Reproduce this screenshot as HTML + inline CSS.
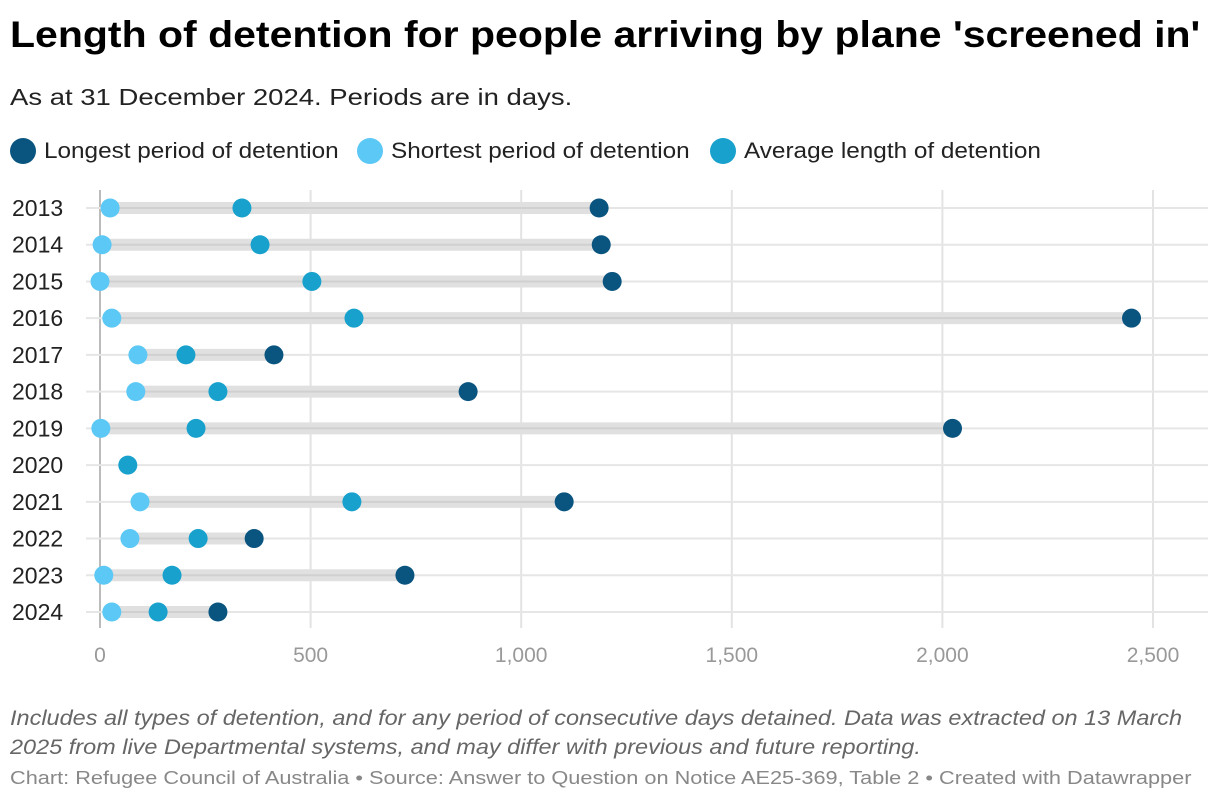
<!DOCTYPE html>
<html><head><meta charset="utf-8"><style>
body{margin:0;background:#fff;font-family:"Liberation Sans",Arial,sans-serif;width:1220px;height:806px;overflow:hidden;position:relative}
.t{position:absolute;transform-origin:0 0;white-space:nowrap}
h1{left:10px;top:14px;margin:0;font-size:37px;font-weight:bold;color:#000;transform:scaleX(1.108)}
.sub{left:10px;top:84px;font-size:23px;color:#222;transform:scaleX(1.195)}
.leg{top:138px;font-size:22px;color:#222;display:flex;align-items:center}
.leg i{display:inline-block;width:26px;height:26px;border-radius:50%;margin-right:8px}
.leg b{font-weight:normal;display:inline-block;transform:scaleX(1.105);transform-origin:0 0}
.note{left:10px;top:704px;font-size:21px;font-style:italic;color:#666;line-height:29px;transform:scaleX(1.118)}
.src{left:10px;top:768px;font-size:18px;color:#888;transform:scaleX(1.207)}
</style></head><body>
<h1 class="t">Length of detention for people arriving by plane 'screened in'</h1>
<div class="t sub">As at 31 December 2024. Periods are in days.</div>
<div class="t leg" style="left:10px"><i style="background:#0a5480"></i><b>Longest period of detention</b></div>
<div class="t leg" style="left:357px"><i style="background:#5bc8f5"></i><b>Shortest period of detention</b></div>
<div class="t leg" style="left:710px"><i style="background:#18a1cd"></i><b>Average length of detention</b></div>
<svg id="chart" width="1220" height="806" style="position:absolute;left:0;top:0"></svg>
<div class="t note">Includes all types of detention, and for any period of consecutive days detained. Data was extracted on 13 March<br>2025 from live Departmental systems, and may differ with previous and future reporting.</div>
<div class="t src">Chart: Refugee Council of Australia • Source: Answer to Question on Notice AE25-369, Table 2 • Created with Datawrapper</div>
<script>
const years=["2013","2014","2015","2016","2017","2018","2019","2020","2021","2022","2023","2024"];
const shortest=[24,5,0,28,90,85,2,null,95,71,9,28];
const average=[337,380,503,603,204,280,228,66,598,233,171,138];
const longest=[1185,1190,1216,2449,413,874,2024,null,1102,366,724,280];
const ticks=[0,500,1000,1500,2000,2500];
const tickLabels=["0","500","1,000","1,500","2,000","2,500"];
const svg=document.getElementById('chart');
const NS='http://www.w3.org/2000/svg';
const x=v=>100+v*(1153-100)/2500;
const y=i=>208+i*(612-208)/11;
function mk(t,a){const e=document.createElementNS(NS,t);for(const k in a)e.setAttribute(k,a[k]);svg.appendChild(e);return e;}
ticks.forEach((t,i)=>{
 const l=mk('line',{x1:x(t),x2:x(t),y1:190,y2:628,stroke:i==0?'#bbb':'#e3e3e3','stroke-width':2});
 
 
 const tx=mk('text',{x:x(t),y:662,'text-anchor':'middle','font-size':21,fill:'#999','font-family':'Liberation Sans, Arial, sans-serif'});
 tx.textContent=tickLabels[i];
 
 
});
years.forEach((yr,i)=>{
 const yy=y(i);
 const g=mk('line',{x1:86,x2:1208,y1:yy,y2:yy,stroke:'#e6e6e6','stroke-width':2});
 
 
 const lb=mk('text',{x:12,y:yy+8,'font-size':23,fill:'#222','font-family':'Liberation Sans, Arial, sans-serif'});
 lb.textContent=yr;
 
 
 const vals=[shortest[i],average[i],longest[i]].filter(v=>v!=null);
 const mn=Math.min(...vals),mx=Math.max(...vals);
 if(mx>mn){
  const b=mk('line',{x1:x(mn),x2:x(mx),y1:yy,y2:yy,stroke:'#e0e0e0','stroke-width':12});
  
  
  const c=mk('line',{x1:x(mn),x2:x(mx),y1:yy,y2:yy,stroke:'#d0d0d0','stroke-width':2});
  
  
 }
 [[shortest[i],'#5bc8f5','dot-shortest'],[average[i],'#18a1cd','dot-average'],[longest[i],'#0a5480','dot-longest']].forEach(([v,col,n])=>{
  if(v==null)return;
  const d=mk('circle',{cx:x(v),cy:yy,r:9.5,fill:col});
  
  
 });
});
</script>
</body></html>
